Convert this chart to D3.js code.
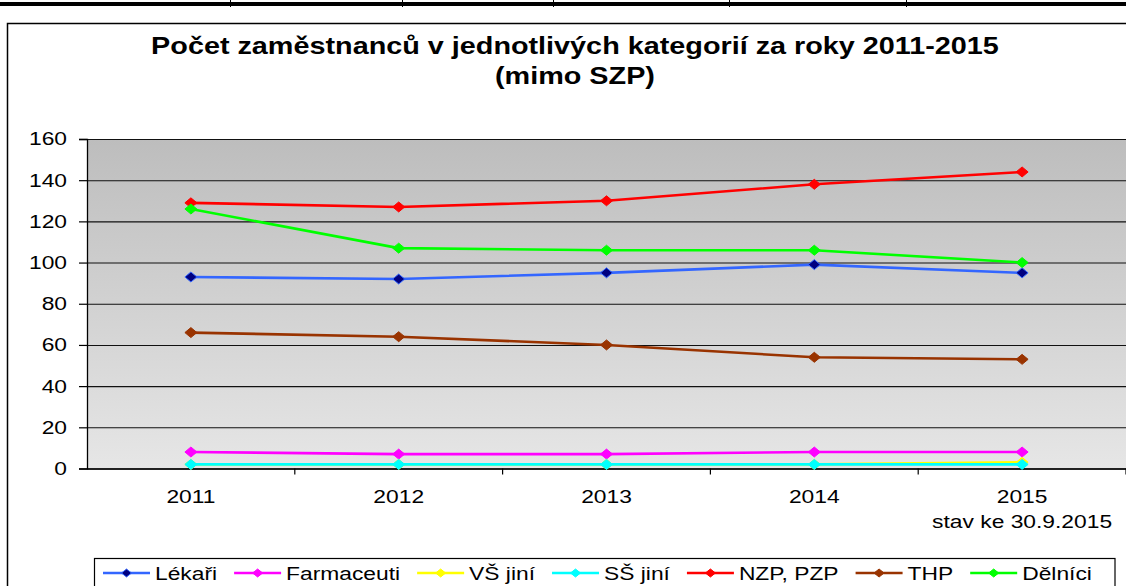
<!DOCTYPE html>
<html>
<head>
<meta charset="utf-8">
<script src="https://cdn.jsdelivr.net/npm/d3@7/dist/d3.min.js"></script>
<style>
  body { margin: 0; background: #fff; }
  svg { display: block; font-family: "Liberation Sans", Arial, sans-serif; }
</style>
</head>
<body>
<svg id="chart" width="1126" height="586"></svg>
<script>
// data
const years = ["2011", "2012", "2013", "2014", "2015"];
const lekari = [93, 92, 95, 99, 95];
const farmaceuti = [8, 7, 7, 8, 8];
const vsJini = [2, 2, 2, 2, 3];
const ssJini = [2, 2, 2, 2, 2];
const nzpPzp = [129, 127, 130, 138, 144];
const thp = [66, 64, 60, 54, 53];
const delnici = [126, 107, 106, 106, 100];
const yTicks = [0, 20, 40, 60, 80, 100, 120, 140, 160];
const lastYearNote = "stav ke 30.9.2015";
const titleLines = ["Počet zaměstnanců v jednotlivých kategorií za roky 2011-2015", "(mimo SZP)"];

const series = [
  { name: "Lékaři", values: lekari, color: "#3366ff", fill: "#000080" },
  { name: "Farmaceuti", values: farmaceuti, color: "#ff00ff", fill: "#ff00ff" },
  { name: "VŠ jiní", values: vsJini, color: "#ffff00", fill: "#ffff00" },
  { name: "SŠ jiní", values: ssJini, color: "#00ffff", fill: "#00ffff" },
  { name: "NZP, PZP", values: nzpPzp, color: "#ff0000", fill: "#ff0000" },
  { name: "THP", values: thp, color: "#993300", fill: "#993300" },
  { name: "Dělníci", values: delnici, color: "#00ff00", fill: "#00ff00" },
];

// the source picture is stretched sideways, so text gets a horizontal scale
const SX = 1.22;
const FS = 18.7;

const svg = d3.select("#chart");
const W = 1126;

const plot = { left: 87, right: 1126, top: 139, bottom: 468.5 };

// page decoration: table border above the chart
svg.append("rect").attr("x", 0).attr("y", 2).attr("width", W).attr("height", 4).attr("fill", "#000");
[230, 402, 553, 729, 906].forEach((vx) => {
  svg.append("line").attr("x1", vx + 0.5).attr("x2", vx + 0.5).attr("y1", 0).attr("y2", 7)
    .attr("stroke", "#000").attr("stroke-width", 1);
});

// chart frame
svg.append("path")
  .attr("d", `M7.5,600 L7.5,23.5 L1140,23.5`)
  .attr("fill", "none").attr("stroke", "#000").attr("stroke-width", 1.5);

// title
const title = svg.append("text")
  .attr("font-weight", "bold").attr("font-size", 23.6).attr("text-anchor", "middle")
  .attr("transform", `scale(${SX},1)`);
title.selectAll("tspan").data(titleLines).join("tspan")
  .attr("x", 575 / SX)
  .attr("y", (d, i) => 54 + i * 30)
  .text((d) => d);

// scales
const x = d3.scaleBand().domain(years).range([plot.left, plot.right]).padding(0);
const y = d3.scaleLinear().domain([0, 160]).range([plot.bottom, plot.top]);
const cx = (d) => x(d) + x.bandwidth() / 2;

// background gradient
const defs = svg.append("defs");
const grad = defs.append("linearGradient").attr("id", "bg").attr("x1", 0).attr("x2", 0).attr("y1", 0).attr("y2", 1);
grad.append("stop").attr("offset", "0%").attr("stop-color", "#bdbdbd");
grad.append("stop").attr("offset", "100%").attr("stop-color", "#e6e6e6");

svg.append("rect")
  .attr("x", plot.left).attr("y", plot.top)
  .attr("width", plot.right - plot.left).attr("height", plot.bottom - plot.top)
  .attr("fill", "url(#bg)");

// gridlines
svg.append("g")
  .attr("transform", `translate(${plot.left},0)`)
  .call(d3.axisLeft(y).tickValues(yTicks).tickSize(-(plot.right - plot.left)).tickFormat(""))
  .call((g) => g.select(".domain").remove())
  .call((g) => g.selectAll("line").attr("stroke", "#111").attr("stroke-width", 1.1));

// y axis
const yAxis = svg.append("g")
  .attr("transform", `translate(${plot.left},0)`)
  .call(d3.axisLeft(y).tickValues(yTicks).tickSize(8).tickPadding(12))
  .call((g) => g.select(".domain").attr("stroke-width", 1.3))
  .call((g) => g.selectAll("line").attr("stroke-width", 1.2));
yAxis.selectAll("text")
  .attr("font-size", FS).attr("fill", "#000").attr("font-family", null)
  .each(function () {
    const t = d3.select(this);
    t.attr("x", +t.attr("x") / SX).attr("transform", `scale(${SX},1)`);
  });

// x axis: labels at band centres, ticks at band edges
const xAxis = svg.append("g")
  .attr("transform", `translate(0,${plot.bottom})`)
  .call(d3.axisBottom(x).tickSize(0).tickPadding(21).tickSizeOuter(0))
  .call((g) => g.select(".domain").attr("stroke-width", 1.3));
xAxis.selectAll(".tick").attr("transform", (d) => `translate(${cx(d)},0)`);
xAxis.selectAll("text")
  .attr("font-size", FS).attr("fill", "#000").attr("font-family", null)
  .attr("transform", `scale(${SX},1)`)
  .each(function (d) {
    if (d === years[years.length - 1]) {
      const t = d3.select(this);
      const label = t.text();
      t.text(null);
      t.append("tspan").attr("x", 0).text(label);
      t.append("tspan").attr("x", 0).attr("dy", "1.35em").text(lastYearNote);
    }
  });
const edges = years.map((d) => x(d)).concat([x(years[years.length - 1]) + x.bandwidth()]);
xAxis.selectAll(".edge").data(edges.slice(1)).join("line")
  .attr("class", "edge")
  .attr("x1", (d) => d).attr("x2", (d) => d)
  .attr("y1", 0).attr("y2", 6)
  .attr("stroke", "#000").attr("stroke-width", 1.2);

// lines and markers
const diamond = (hw, hh) => `M0,${-hh}L${hw},0L0,${hh}L${-hw},0Z`;
const line = d3.line().x((d, i) => cx(years[i])).y((d) => y(d));

const sg = svg.append("g").selectAll("g").data(series).join("g");
sg.append("path")
  .attr("d", (s) => line(s.values))
  .attr("fill", "none")
  .attr("stroke", (s) => s.color)
  .attr("stroke-width", 2.6);
sg.each(function (s) {
  d3.select(this).selectAll("path.mk").data(s.values).join("path")
    .attr("class", "mk")
    .attr("transform", (d, i) => `translate(${cx(years[i])},${y(d)})`)
    .attr("d", diamond(6, 5))
    .attr("fill", s.fill)
    .attr("stroke", s.color)
    .attr("stroke-width", 1);
});

// legend
const legend = svg.append("g");
legend.append("rect")
  .attr("x", 94.5).attr("y", 558.5).attr("width", 1115 - 94.5).attr("height", 60)
  .attr("fill", "#fff").attr("stroke", "#000").attr("stroke-width", 1.2);

let lx = 103;
const ly = 573;
series.forEach((s) => {
  const item = legend.append("g").attr("transform", `translate(${lx},${ly})`);
  item.append("line").attr("x1", 0).attr("x2", 47).attr("y1", 0).attr("y2", 0)
    .attr("stroke", s.color).attr("stroke-width", 2.6);
  item.append("path").attr("transform", "translate(23.5,0)").attr("d", diamond(5, 4))
    .attr("fill", s.fill).attr("stroke", s.color).attr("stroke-width", 1);
  const txt = item.append("text")
    .attr("x", 52 / SX).attr("y", 0).attr("dy", "0.36em")
    .attr("font-size", FS).attr("fill", "#000")
    .attr("transform", `scale(${SX},1)`)
    .text(s.name);
  const tw = txt.node().getComputedTextLength() * SX;
  lx += 52 + tw + 17;
});
</script>
</body>
</html>
